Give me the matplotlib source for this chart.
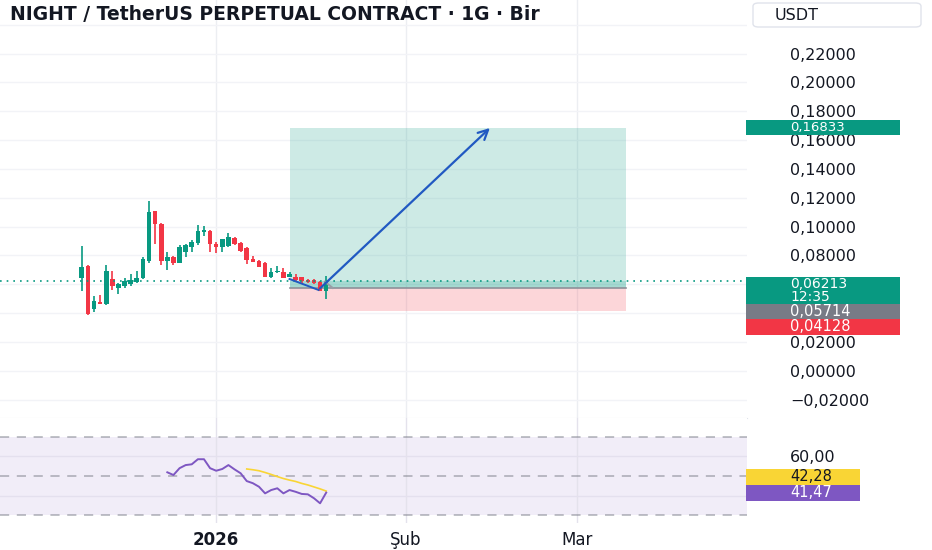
import matplotlib
matplotlib.use("Agg")
import matplotlib.pyplot as plt
import matplotlib.dates as mdates
from matplotlib.patches import Rectangle, FancyBboxPatch
from matplotlib.ticker import FuncFormatter
import pandas as pd

# ---------------- data ----------------
TITLE = "NIGHT / TetherUS PERPETUAL CONTRACT · 1G · Bir"
CURRENCY = "USDT"
first_day = "2025-12-10"

opens = [0.0645, 0.0725, 0.0430, 0.0479, 0.0464, 0.0636, 0.0576, 0.0590, 0.0603, 0.0618,
         0.0643, 0.0763, 0.1105, 0.1020, 0.0763, 0.0786, 0.0750, 0.0820, 0.0855, 0.0883,
         0.0964, 0.0970, 0.0880, 0.0855, 0.0867, 0.0920, 0.0886, 0.0850, 0.0775, 0.0758,
         0.0744, 0.0652, 0.0682, 0.0687, 0.0647, 0.0652, 0.0647, 0.0629, 0.0629, 0.0612,
         0.0550]
highs = [0.0867, 0.0730, 0.0520, 0.0527, 0.0735, 0.0694, 0.0610, 0.0645, 0.0670, 0.0694,
         0.0786, 0.1180, 0.1110, 0.1025, 0.0820, 0.0797, 0.0874, 0.0880, 0.0907, 0.1010,
         0.1006, 0.0975, 0.0890, 0.0915, 0.0955, 0.0925, 0.0890, 0.0855, 0.0797, 0.0765,
         0.0751, 0.0710, 0.0724, 0.0710, 0.0682, 0.0670, 0.0652, 0.0636, 0.0636, 0.0620,
         0.0659]
lows = [0.0555, 0.0383, 0.0410, 0.0460, 0.0458, 0.0560, 0.0530, 0.0576, 0.0590, 0.0606,
        0.0636, 0.0750, 0.0880, 0.0735, 0.0700, 0.0735, 0.0744, 0.0786, 0.0820, 0.0874,
        0.0936, 0.0820, 0.0813, 0.0820, 0.0860, 0.0874, 0.0820, 0.0740, 0.0756, 0.0716,
        0.0647, 0.0643, 0.0675, 0.0643, 0.0647, 0.0624, 0.0601, 0.0605, 0.0601, 0.0550,
        0.0500]
closes = [0.0721, 0.0390, 0.0480, 0.0464, 0.0694, 0.0590, 0.0604, 0.0620, 0.0630, 0.0643,
          0.0775, 0.1098, 0.1020, 0.0763, 0.0786, 0.0750, 0.0860, 0.0874, 0.0890, 0.0970,
          0.0978, 0.0880, 0.0855, 0.0915, 0.0925, 0.0880, 0.0832, 0.0770, 0.0756, 0.0721,
          0.0652, 0.0682, 0.0694, 0.0643, 0.0670, 0.0629, 0.0620, 0.0612, 0.0606, 0.0555,
          0.06213]

rsi_start_index = 14
rsi_values = [51.9, 50.5, 54.0, 55.6, 56.0, 58.6, 58.6, 54.0, 52.7, 53.6, 55.6, 53.4,
              51.4, 47.4, 46.3, 44.5, 41.1, 42.8, 43.7, 41.1, 42.8, 41.9, 40.8, 40.6,
              38.6, 36.0, 41.47]
rsi_ma_start_index = 27
rsi_ma_values = [53.6, 53.2, 52.7, 51.8, 50.8, 49.7, 48.7, 47.9, 47.2, 46.2, 45.4, 44.4,
                 43.4, 42.28]

price_grid = [-0.02, 0.0, 0.02, 0.04, 0.06, 0.08, 0.10, 0.12, 0.14, 0.16, 0.18, 0.20, 0.22, 0.24]
price_labelled = [-0.02, 0.0, 0.02, 0.08, 0.10, 0.12, 0.14, 0.16, 0.18, 0.20, 0.22]
rsi_grid = [40, 60]
rsi_labelled = [60]
rsi_bands = [30, 50, 70]
date_ticks = ["2026-01-01", "2026-02-01", "2026-03-01"]
date_labels = ["2026", "Şub", "Mar"]

last_price = 0.06213
countdown = "12:35"
entry_price = 0.05714
target_price = 0.16833
stop_price = 0.04128
position_start = "2026-01-13"
position_end = "2026-03-09"
arrow_start = ("2026-01-18", 0.05714)
arrow_end = ("2026-02-14 19:00", 0.16833)
path_line = [("2026-01-13", 0.0636), ("2026-01-17 18:00", 0.0560)]
gray_line = [("2026-01-18 19:00", 0.0617), ("2026-01-20 02:00", 0.0574)]
rsi_last = 41.47
rsi_ma_last = 42.28

# ---------------- style ----------------
GREEN = "#089981"
RED = "#f23645"
BLUE = "#2159c2"
GRAY = "#787b86"
TEXT = "#131722"
GRID = "#f2f3f7"
VGRID = "#eceef2"
PURPLE = "#7e57c2"
YELLOW = "#f9d535"

W, H = 932, 550
fig = plt.figure(figsize=(W / 100, H / 100), dpi=100)
fig.patch.set_facecolor("white")


def rect(x0, y0, x1, y1):
    return [x0 / W, 1 - y1 / H, (x1 - x0) / W, (y1 - y0) / H]


ax = fig.add_axes(rect(0, 0, 747, 418))
axr = fig.add_axes(rect(0, 418, 747, 523), sharex=ax)

dates = pd.date_range(first_day, periods=len(opens), freq="D")
xs = mdates.date2num(dates.to_pydatetime())
jan1 = mdates.date2num(pd.Timestamp("2026-01-01").to_pydatetime())
px_day = 6.11
ax.set_xlim(jan1 - 216.2 / px_day, jan1 + (747 - 216.2) / px_day)
ax.set_ylim(-0.03281, 0.25713)
axr.set_ylim(25.9, 79.74)


def d2n(s):
    return mdates.date2num(pd.Timestamp(s).to_pydatetime())


for a in (ax, axr):
    for s in a.spines.values():
        s.set_visible(False)
    a.set_facecolor("white")

ax.spines["bottom"].set_visible(True)
ax.spines["bottom"].set_color("#e0e3eb")

tick_nums = [d2n(t) for t in date_ticks]
ax.set_xticks(tick_nums)
ax.tick_params(axis="x", length=0, labelbottom=False)
ax.grid(axis="x", color=VGRID, lw=1, zorder=0)
ax.set_yticks(price_grid)
ax.grid(axis="y", color=GRID, lw=1, zorder=0)
ax.set_axisbelow(True)


def fmt_price(v, pos=None):
    s = f"{abs(v):.5f}".replace(".", ",")
    return ("−" + s) if v < -1e-9 else s


def tick_price(v, pos=None):
    if any(abs(v - t) < 1e-9 for t in price_labelled):
        return fmt_price(v)
    return ""


ax.yaxis.tick_right()
ax.yaxis.set_major_formatter(FuncFormatter(tick_price))
ax.tick_params(axis="y", length=0, pad=31, labelsize=11.5, labelcolor=TEXT)

# position tool
ps, pe = d2n(position_start), d2n(position_end)
ax.add_patch(Rectangle((ps, entry_price), pe - ps, target_price - entry_price,
                       facecolor=GREEN, alpha=0.2, lw=0, zorder=1))
ax.add_patch(Rectangle((ps, stop_price), pe - ps, entry_price - stop_price,
                       facecolor=RED, alpha=0.2, lw=0, zorder=1))
ax.add_patch(Rectangle((ps, entry_price), pe - ps, last_price - entry_price,
                       facecolor=GREEN, alpha=0.2, lw=0, zorder=1))
ax.plot([ps, pe], [entry_price, entry_price], color="#8d9099", lw=1.2, zorder=2)

# candles
for x, o, h, l, c in zip(xs, opens, highs, lows, closes):
    col = GREEN if c >= o else RED
    ax.vlines(x, l, h, color=col, lw=1.2, zorder=3)
    ax.bar(x, max(abs(c - o), 0.0006), bottom=min(o, c), width=0.75,
           color=col, lw=0, zorder=4)

ax.axhline(last_price, color=GREEN, lw=1.2, ls=(0, (1, 3)), zorder=5)

ax.plot([d2n(p[0]) for p in path_line], [p[1] for p in path_line], color=BLUE, lw=1.4, zorder=6)
ax.plot([d2n(p[0]) for p in gray_line], [p[1] for p in gray_line], color="#9a9da6", lw=1.4, zorder=6)
ax.annotate("", xy=(d2n(arrow_end[0]), arrow_end[1]),
            xytext=(d2n(arrow_start[0]), arrow_start[1]),
            arrowprops=dict(arrowstyle="->,head_length=0.7,head_width=0.35", color=BLUE,
                            lw=1.6, shrinkA=0, shrinkB=0), zorder=7)

# RSI pane
axr.axhspan(rsi_bands[0], rsi_bands[-1], color=PURPLE, alpha=0.1, lw=0, zorder=0)
axr.set_yticks(rsi_grid)
axr.grid(axis="y", color="#e4e0ee", lw=1, zorder=1)
axr.grid(axis="x", color="#e4e2ec", lw=1, zorder=1)
axr.set_axisbelow(True)
for b in rsi_bands:
    axr.axhline(b, color=GRAY, alpha=0.6, lw=1.1, ls=(0, (6, 5)), zorder=2)
axr.plot(xs[rsi_start_index:], rsi_values, color=PURPLE, lw=1.4, zorder=4)
axr.plot(xs[rsi_ma_start_index:], rsi_ma_values, color=YELLOW, lw=1.2, zorder=3)
axr.yaxis.tick_right()
axr.yaxis.set_major_formatter(FuncFormatter(
    lambda v, p: f"{v:.2f}".replace(".", ",") if v in rsi_labelled else ""))
axr.tick_params(axis="y", length=0, pad=31, labelsize=11.5, labelcolor=TEXT)
axr.set_xticks(tick_nums)
axr.set_xticklabels(date_labels)
axr.tick_params(axis="x", length=0, pad=6, labelsize=12, labelcolor=TEXT)
axr.get_xticklabels()[0].set_fontweight("bold")

# ---------------- labels on the right scale ----------------
fig.canvas.draw()
inv = fig.transFigure.inverted()


def fy(a, v):
    return inv.transform(a.transData.transform((ax.get_xlim()[0], v)))[1]


LBL_X = 790 / W
px = 1 / H


def box(y_top_frac, h_px, color, x1_px=900):
    fig.add_artist(Rectangle((746 / W, y_top_frac - h_px * px), (x1_px - 746) / W, h_px * px,
                             transform=fig.transFigure, facecolor=color, lw=0, zorder=5))


# target label
yt = fy(ax, target_price) + 8 * px
box(yt, 15, GREEN)
fig.text(LBL_X, yt - 7.5 * px, fmt_price(target_price), color="white", fontsize=9.5,
         va="center", ha="left", zorder=6)
# last price label
yl = fy(ax, last_price) + 4.5 * px
box(yl, 27, GREEN)
fig.text(LBL_X, yl - 7 * px, fmt_price(last_price), color="white", fontsize=10,
         va="center", ha="left", zorder=6)
fig.text(LBL_X, yl - 20.5 * px, countdown, color="white", fontsize=10,
         va="center", ha="left", zorder=6)
# entry label
ye = yl - 27 * px
box(ye, 15, GRAY)
fig.text(LBL_X, ye - 7.5 * px, fmt_price(entry_price), color="white", fontsize=10.5,
         va="center", ha="left", zorder=6)
# stop label
ys = ye - 15 * px
box(ys, 16, RED)
fig.text(LBL_X, ys - 8 * px, fmt_price(stop_price), color="white", fontsize=10.5,
         va="center", ha="left", zorder=6)

# RSI labels
yr = fy(axr, rsi_last) + 8 * px
box(yr, 16, PURPLE, x1_px=860)
fig.text(LBL_X, yr - 8 * px, f"{rsi_last:.2f}".replace(".", ","), color="white",
         fontsize=10.5, va="center", ha="left", zorder=6)
ym = yr + 16 * px
box(ym, 16, YELLOW, x1_px=860)
fig.text(LBL_X, ym - 8 * px, f"{rsi_ma_last:.2f}".replace(".", ","), color=TEXT,
         fontsize=10.5, va="center", ha="left", zorder=6)

# title and currency button
fig.text(10 / W, 1 - 15 * px, TITLE, fontsize=13.5, fontweight="bold", color=TEXT,
         va="center", ha="left", zorder=6)
fig.add_artist(FancyBboxPatch((753 / W, 1 - 27 * px), 168 / W, 24 * px,
                              boxstyle="round,pad=0,rounding_size=0.006",
                              transform=fig.transFigure, facecolor="white",
                              edgecolor="#e0e3eb", lw=1, zorder=5))
fig.text(775 / W, 1 - 15 * px, CURRENCY, fontsize=11.5, color=TEXT, va="center",
         ha="left", zorder=6)

fig.savefig("out.png", dpi=100)
